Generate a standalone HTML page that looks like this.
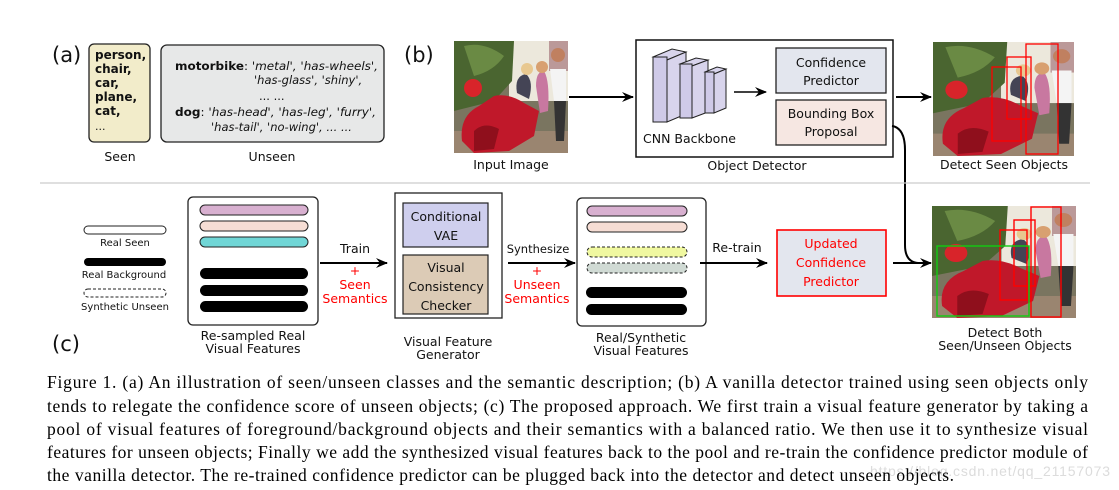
<!DOCTYPE html>
<html><head><meta charset="utf-8"><style>
html,body{margin:0;padding:0;background:#fff;width:1119px;height:490px;overflow:hidden}
svg{display:block}
.s{font-family:"DejaVu Sans","Liberation Sans",sans-serif;fill:#111}
.c{font-family:"Liberation Serif",serif;font-size:17.5px;fill:#000}
</style></head><body>
<svg width="1119" height="490" viewBox="0 0 1119 490" xmlns="http://www.w3.org/2000/svg">
<defs>
<marker id="ah" markerWidth="12" markerHeight="10" refX="11" refY="5" orient="auto" markerUnits="userSpaceOnUse">
<path d="M0,0 L12,5 L0,10 L4,5 Z" fill="#000"/></marker>
<symbol id="photo" viewBox="0 0 114 112" preserveAspectRatio="none">
<rect width="114" height="112" fill="#7a7560"/>
<rect x="55" y="0" width="59" height="60" fill="#ece8dc"/>
<rect x="95" y="0" width="19" height="30" fill="#b99"/>
<path d="M0,0 H60 L58,40 L40,60 L0,70 Z" fill="#4a6530"/>
<path d="M10,5 Q30,0 50,15 Q40,30 20,35 Z" fill="#6a8a44"/>
<rect x="0" y="90" width="114" height="22" fill="#9a8570"/>
<path d="M8,100 Q5,75 25,65 L40,55 Q55,52 70,62 L85,70 L80,95 L55,110 L20,112 Z" fill="#c0182a"/>
<path d="M20,90 Q30,80 45,88 L40,108 L20,110 Z" fill="#8f0f1c"/>
<circle cx="19" cy="47" r="9" fill="#d8242a"/>
<path d="M63,52 Q60,35 72,33 Q80,40 75,58 Z" fill="#445"/>
<circle cx="73" cy="28" r="6" fill="#e8c890"/>
<path d="M82,45 Q82,30 90,30 Q96,40 94,70 L86,72 Z" fill="#c878a0"/>
<circle cx="88" cy="26" r="6" fill="#d8a070"/>
<path d="M96,28 L112,28 L112,60 L100,60 Z" fill="#f4f4f4"/>
<path d="M100,60 L112,60 L110,100 L102,100 Z" fill="#333"/>
<circle cx="104" cy="14" r="7" fill="#c08060"/>
</symbol>
</defs>

<text x="52" y="62" class="s" font-size="21">(a)</text>
<rect x="89" y="44" width="61" height="98" rx="5" fill="#f2ecca" stroke="#222" stroke-width="1.3"/>
<g class="s" font-size="12" font-weight="bold">
<text x="95" y="59">person,</text><text x="95" y="73">chair,</text><text x="95" y="87">car,</text>
<text x="95" y="101">plane,</text><text x="95" y="115">cat,</text></g>
<text x="95" y="130" class="s" font-size="11">...</text>
<text x="120" y="161" class="s" font-size="12.5" text-anchor="middle">Seen</text>
<rect x="161" y="45" width="223" height="97" rx="6" fill="#e7e8e8" stroke="#222" stroke-width="1.3"/>
<g class="s" font-size="11.5">
<text x="175" y="70" textLength="203" lengthAdjust="spacingAndGlyphs"><tspan font-weight="bold">motorbike</tspan>: <tspan font-style="italic">'metal', 'has-wheels',</tspan></text>
<text x="254" y="84" font-style="italic">'has-glass', 'shiny',</text>
<text x="259" y="100">... ...</text>
<text x="175" y="116" textLength="201" lengthAdjust="spacingAndGlyphs"><tspan font-weight="bold">dog</tspan>: <tspan font-style="italic">'has-head', 'has-leg', 'furry',</tspan></text>
<text x="211" y="131" font-style="italic">'has-tail', 'no-wing', ... ...</text>
</g>
<text x="272" y="161" class="s" font-size="12.5" text-anchor="middle">Unseen</text>

<text x="404" y="62" class="s" font-size="21">(b)</text>
<use href="#photo" x="454" y="41" width="114" height="112"/>
<text x="511" y="169" class="s" font-size="12.5" text-anchor="middle">Input Image</text>
<line x1="569" y1="97" x2="633" y2="97" stroke="#000" stroke-width="2" marker-end="url(#ah)"/>
<rect x="636" y="40" width="257" height="117" fill="#fff" stroke="#111" stroke-width="1.5"/>
<text x="757" y="170" class="s" font-size="12.5" text-anchor="middle">Object Detector</text>
<g stroke="#222" stroke-width="1" fill="#d8d4ec">
<polygon points="653,57 672,49 686,52 667,60"/><polygon points="667,60 686,52 686,114 667,122"/><rect x="653" y="57" width="14" height="65" fill="#cfcae8"/>
<polygon points="680,64 696,58 708,60 692,66"/><polygon points="692,66 708,60 708,112 692,118"/><rect x="680" y="64" width="12" height="54" fill="#cfcae8"/>
<polygon points="705,72 717,67 726,69 714,74"/><polygon points="714,74 726,69 726,108 714,113"/><rect x="705" y="72" width="9" height="41" fill="#cfcae8"/>
</g>
<text x="643" y="143" class="s" font-size="12.5">CNN Backbone</text>
<line x1="734" y1="92" x2="766" y2="92" stroke="#000" stroke-width="1.6" marker-end="url(#ah)"/>
<rect x="776" y="48" width="110" height="45" fill="#e3e6ee" stroke="#222" stroke-width="1.3"/>
<text x="831" y="67" class="s" font-size="12.5" text-anchor="middle">Confidence</text>
<text x="831" y="85" class="s" font-size="12.5" text-anchor="middle">Predictor</text>
<rect x="776" y="100" width="110" height="45" fill="#f6e7e2" stroke="#222" stroke-width="1.3"/>
<text x="831" y="118" class="s" font-size="12.5" text-anchor="middle">Bounding Box</text>
<text x="831" y="136" class="s" font-size="12.5" text-anchor="middle">Proposal</text>
<line x1="896" y1="97" x2="931" y2="97" stroke="#000" stroke-width="2" marker-end="url(#ah)"/>
<use href="#photo" x="933" y="42" width="141" height="114"/>
<g fill="none" stroke="#f00" stroke-width="1.3">
<rect x="992" y="67" width="29" height="74"/><rect x="1007" y="57" width="24" height="62"/><rect x="1026" y="44" width="32" height="110"/></g>
<text x="1004" y="169" class="s" font-size="12.5" text-anchor="middle">Detect Seen Objects</text>
<path d="M892,126 Q905,128 905,150 L905,245 Q905,262 918,263" fill="none" stroke="#000" stroke-width="2"/>
<line x1="893" y1="263" x2="931" y2="263" stroke="#000" stroke-width="2" marker-end="url(#ah)"/>

<line x1="40" y1="183" x2="1090" y2="183" stroke="#ccc" stroke-width="1.3"/>

<rect x="84" y="226" width="82" height="8" rx="4" fill="#fff" stroke="#222"/>
<text x="125" y="246" class="s" font-size="10" text-anchor="middle">Real Seen</text>
<rect x="84" y="258" width="82" height="8" rx="4" fill="#000"/>
<text x="124" y="278" class="s" font-size="10" text-anchor="middle">Real Background</text>
<rect x="84" y="289" width="82" height="8" rx="4" fill="#fff" stroke="#222" stroke-dasharray="3,2"/>
<text x="125" y="310" class="s" font-size="10" text-anchor="middle">Synthetic Unseen</text>
<text x="52" y="351" class="s" font-size="21">(c)</text>

<rect x="188" y="197" width="130" height="128" rx="5" fill="#fff" stroke="#222" stroke-width="1.3"/>
<rect x="200" y="205" width="108" height="10" rx="5" fill="#d8b0d0" stroke="#222"/>
<rect x="200" y="221" width="108" height="10" rx="5" fill="#f6ddd4" stroke="#222"/>
<rect x="200" y="237" width="108" height="10" rx="5" fill="#70d6d6" stroke="#222"/>
<rect x="200" y="268" width="108" height="11" rx="5.5" fill="#000"/>
<rect x="200" y="285" width="108" height="11" rx="5.5" fill="#000"/>
<rect x="200" y="301" width="108" height="11" rx="5.5" fill="#000"/>
<text x="253" y="340" class="s" font-size="12.5" text-anchor="middle">Re-sampled Real</text>
<text x="253" y="353" class="s" font-size="12.5" text-anchor="middle">Visual Features</text>

<line x1="320" y1="263" x2="387" y2="263" stroke="#000" stroke-width="2" marker-end="url(#ah)"/>
<text x="355" y="253" class="s" font-size="12.5" text-anchor="middle">Train</text>
<g class="s" font-size="12.5" text-anchor="middle" style="fill:#f00">
<text x="355" y="275">+</text><text x="355" y="289">Seen</text><text x="355" y="303">Semantics</text></g>

<rect x="395" y="193" width="107" height="125" fill="#fff" stroke="#222" stroke-width="1.3"/>
<rect x="403" y="203" width="85" height="44" fill="#cfcfee" stroke="#222" stroke-width="1.2"/>
<text x="446" y="221" class="s" font-size="12.5" text-anchor="middle">Conditional</text>
<text x="446" y="240" class="s" font-size="12.5" text-anchor="middle">VAE</text>
<rect x="403" y="255" width="85" height="59" fill="#dccbb6" stroke="#222" stroke-width="1.2"/>
<text x="446" y="272" class="s" font-size="12.5" text-anchor="middle">Visual</text>
<text x="446" y="291" class="s" font-size="12.5" text-anchor="middle">Consistency</text>
<text x="446" y="310" class="s" font-size="12.5" text-anchor="middle">Checker</text>
<text x="448" y="346" class="s" font-size="12.5" text-anchor="middle">Visual Feature</text>
<text x="448" y="359" class="s" font-size="12.5" text-anchor="middle">Generator</text>

<line x1="508" y1="263" x2="575" y2="263" stroke="#000" stroke-width="2" marker-end="url(#ah)"/>
<text x="538" y="253" class="s" font-size="11.5" text-anchor="middle">Synthesize</text>
<g class="s" font-size="12.5" text-anchor="middle" style="fill:#f00">
<text x="537" y="275">+</text><text x="537" y="289">Unseen</text><text x="537" y="303">Semantics</text></g>

<rect x="577" y="198" width="129" height="128" rx="5" fill="#fff" stroke="#222" stroke-width="1.3"/>
<rect x="587" y="206" width="100" height="10" rx="5" fill="#d8b0d0" stroke="#222"/>
<rect x="587" y="222" width="100" height="10" rx="5" fill="#f6ddd4" stroke="#222"/>
<rect x="587" y="247" width="100" height="10" rx="5" fill="#f0f8a0" stroke="#222" stroke-dasharray="3,2"/>
<rect x="587" y="263" width="100" height="10" rx="5" fill="#d0dad4" stroke="#222" stroke-dasharray="3,2"/>
<rect x="586" y="287" width="101" height="11" rx="5.5" fill="#000"/>
<rect x="586" y="304" width="101" height="11" rx="5.5" fill="#000"/>
<text x="641" y="342" class="s" font-size="12.5" text-anchor="middle">Real/Synthetic</text>
<text x="641" y="355" class="s" font-size="12.5" text-anchor="middle">Visual Features</text>

<line x1="700" y1="263" x2="767" y2="263" stroke="#000" stroke-width="2" marker-end="url(#ah)"/>
<text x="737" y="252" class="s" font-size="12.5" text-anchor="middle">Re-train</text>
<rect x="777" y="230" width="109" height="66" fill="#e3e6ee" stroke="#f00" stroke-width="1.6"/>
<g class="s" font-size="12.5" text-anchor="middle" style="fill:#f00">
<text x="831" y="248">Updated</text><text x="831" y="267">Confidence</text><text x="831" y="286">Predictor</text></g>

<use href="#photo" x="932" y="206" width="144" height="112"/>
<g fill="none" stroke-width="1.4">
<rect x="1000" y="230" width="27" height="70" stroke="#f00"/><rect x="1014" y="220" width="21" height="66" stroke="#f00"/>
<rect x="1031" y="207" width="30" height="110" stroke="#f00"/><rect x="937" y="246" width="92" height="70" stroke="#1c1"/></g>
<text x="1005" y="337" class="s" font-size="12.5" text-anchor="middle">Detect Both</text>
<text x="1005" y="350" class="s" font-size="12.5" text-anchor="middle">Seen/Unseen Objects</text>

<text x="47" y="388" class="c" textLength="1041" lengthAdjust="spacing">Figure 1.  (a) An illustration of seen/unseen classes and the semantic description; (b) A vanilla detector trained using seen objects only</text>
<text x="47" y="412" class="c" textLength="1041" lengthAdjust="spacing">tends to relegate the confidence score of unseen objects; (c) The proposed approach.  We first train a visual feature generator by taking a</text>
<text x="47" y="435" class="c" textLength="1041" lengthAdjust="spacing">pool of visual features of foreground/background objects and their semantics with a balanced ratio.  We then use it to synthesize visual</text>
<text x="47" y="458" class="c" textLength="1041" lengthAdjust="spacing">features for unseen objects; Finally we add the synthesized visual features back to the pool and re-train the confidence predictor module of</text>
<text x="870" y="476" font-family="Liberation Sans,sans-serif" font-size="14" fill="#dcdcdc" textLength="240">https://blog.csdn.net/qq_21157073</text>
<text x="47" y="481" class="c" textLength="907" lengthAdjust="spacing">the vanilla detector. The re-trained confidence predictor can be plugged back into the detector and detect unseen objects.</text>
</svg>
</body></html>
